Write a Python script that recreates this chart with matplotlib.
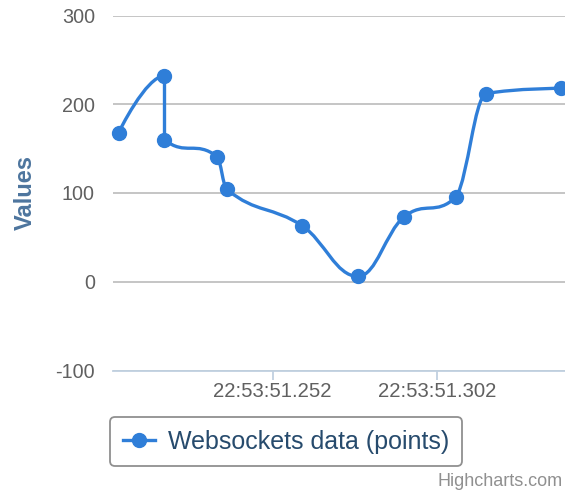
import numpy as np
import pandas as pd
import matplotlib
matplotlib.use("Agg")
import matplotlib.pyplot as plt
from matplotlib.path import Path
from matplotlib.patches import PathPatch
from matplotlib.lines import Line2D
from matplotlib.ticker import FuncFormatter

plt.rcParams['font.family'] = ['Liberation Sans', 'DejaVu Sans']
plt.rcParams['axes.unicode_minus'] = False

# data
times = ["22:53:51.205", "22:53:51.219", "22:53:51.219", "22:53:51.235",
         "22:53:51.238", "22:53:51.261", "22:53:51.278", "22:53:51.292",
         "22:53:51.308", "22:53:51.317", "22:53:51.340"]
values = [168, 232, 160, 141, 104, 63, 6, 73, 96, 212, 218]
series_name = "Websockets data (points)"
x_ticks = ["22:53:51.252", "22:53:51.302"]
x_range = ["22:53:51.2033", "22:53:51.3411"]
y_ticks = [-100, 0, 100, 200, 300]

line_color = "#2f7ed8"

# times -> milliseconds since the whole second
t = pd.to_datetime(times, format="%H:%M:%S.%f")
base = t[0].floor("s")
x = np.array((t - base).total_seconds() * 1000.0)
y = np.array(values, dtype=float)
tick_ms = np.array((pd.to_datetime(x_ticks, format="%H:%M:%S.%f") - base).total_seconds() * 1000.0)
lim_ms = np.array((pd.to_datetime(x_range, format="%H:%M:%S.%f") - base).total_seconds() * 1000.0)


def hc_spline(xs, ys, smoothing=1.5):
    # same control point rule as the highcharts spline series
    n = len(xs)
    denom = smoothing + 1
    left = [None] * n
    right = [None] * n
    for i in range(1, n - 1):
        px, py = xs[i], ys[i]
        lx, ly = xs[i - 1], ys[i - 1]
        nx, ny = xs[i + 1], ys[i + 1]
        lcx = (smoothing * px + lx) / denom
        lcy = (smoothing * py + ly) / denom
        rcx = (smoothing * px + nx) / denom
        rcy = (smoothing * py + ny) / denom
        if rcx != lcx:
            corr = (rcy - lcy) * (rcx - px) / (rcx - lcx) + py - rcy
            lcy += corr
            rcy += corr
        if lcy > ly and lcy > py:
            lcy = max(ly, py)
            rcy = 2 * py - lcy
        elif lcy < ly and lcy < py:
            lcy = min(ly, py)
            rcy = 2 * py - lcy
        if rcy > ny and rcy > py:
            rcy = max(ny, py)
            lcy = 2 * py - rcy
        elif rcy < ny and rcy < py:
            rcy = min(ny, py)
            lcy = 2 * py - rcy
        left[i] = (lcx, lcy)
        right[i] = (rcx, rcy)
    verts = [(xs[0], ys[0])]
    codes = [Path.MOVETO]
    for i in range(1, n):
        c1 = right[i - 1] if right[i - 1] is not None else (xs[i - 1], ys[i - 1])
        c2 = left[i] if left[i] is not None else (xs[i], ys[i])
        verts += [c1, c2, (xs[i], ys[i])]
        codes += [Path.CURVE4] * 3
    return Path(verts, codes)


fig = plt.figure(figsize=(5.65, 4.96), dpi=100)
ax = fig.add_axes([113 / 565, 1 - 370.5 / 496, 452 / 565, 355 / 496])

ax.add_patch(PathPatch(hc_spline(x, y), fill=False, edgecolor=line_color,
                       lw=2.4, capstyle='round', joinstyle='round', zorder=3))
ax.plot(x, y, linestyle='none', marker='o', ms=10, color=line_color,
        clip_on=False, zorder=4)

ax.set_xlim(lim_ms[0], lim_ms[1])
ax.set_ylim(-100, 300)
ax.set_yticks(y_ticks)
ax.set_xticks(tick_ms)
ax.xaxis.set_major_formatter(FuncFormatter(
    lambda v, p: f"{base:%H:%M:%S}.{int(round(v)):03d}"))

ax.grid(axis='y', color='#C0C0C0', lw=1.3)
ax.set_axisbelow(True)
for s in ['top', 'right', 'left']:
    ax.spines[s].set_visible(False)
ax.spines['bottom'].set_color('#C0D0E0')
ax.spines['bottom'].set_linewidth(1.3)
ax.spines['bottom'].set_zorder(2.5)

ax.tick_params(axis='y', length=0, pad=13, labelsize=14.2, labelcolor='#606060')
ax.tick_params(axis='x', length=6.5, width=1.3, color='#C0D0E0', pad=2,
               labelsize=14.6, labelcolor='#606060')

ax.set_ylabel("Values", fontsize=17, fontweight='bold', color='#4d759e')
ax.yaxis.set_label_coords(-0.168, 0.5)

handle = Line2D([], [], color=line_color, lw=2.4, marker='o', ms=10)
leg = fig.legend([handle], [series_name], loc='center',
                 bbox_to_anchor=(286 / 565, 1 - 441.5 / 496),
                 fontsize=18, labelcolor='#274b6d', handlelength=1.3,
                 handletextpad=0.5, borderpad=0.5, borderaxespad=0,
                 framealpha=1, edgecolor='#909090', fancybox=True)
leg.get_frame().set_linewidth(1.3)

fig.text(563 / 565, 1 - 481 / 496, "Highcharts.com", ha='right', va='center',
         fontsize=13, color='#909090')

fig.savefig("out.png", dpi=100)
